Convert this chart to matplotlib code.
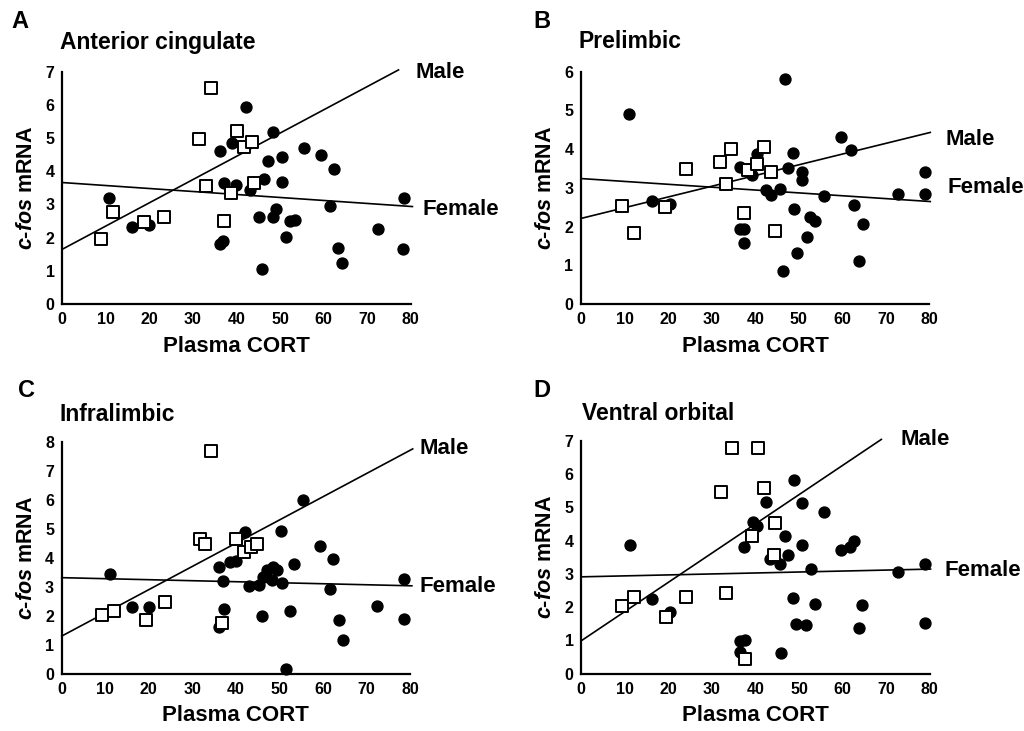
import matplotlib
matplotlib.use("Agg")
import matplotlib.pyplot as plt

plt.rcParams['font.family'] = ['Liberation Sans', 'DejaVu Sans']
plt.rcParams['font.weight'] = 'bold'
plt.rcParams['mathtext.fontset'] = 'custom'
plt.rcParams['mathtext.bfit'] = 'Liberation Sans:italic:bold'
plt.rcParams['mathtext.rm'] = 'Liberation Sans:bold'

# ---- data ----
letters = ["A", "B", "C", "D"]
regions = ["Anterior cingulate", "Prelimbic", "Infralimbic", "Ventral orbital"]
y_max = [7, 6, 8, 7]

# open squares
sq_x_A = [9.0, 11.7, 18.8, 23.4, 34.1, 31.5, 32.9, 40.0, 41.8, 43.6, 44.1, 38.7, 37.2]
sq_y_A = [1.95, 2.78, 2.48, 2.63, 6.52, 4.96, 3.56, 5.21, 4.73, 4.89, 3.64, 3.33, 2.50]
sq_x_B = [9.4, 12.1, 19.4, 24.1, 31.9, 34.5, 33.4, 38.4, 40.5, 42.1, 43.6, 37.5, 44.6]
sq_y_B = [2.54, 1.83, 2.51, 3.49, 3.68, 4.00, 3.09, 3.46, 3.61, 4.05, 3.42, 2.34, 1.89]
sq_x_C = [9.3, 12.0, 19.3, 23.8, 34.2, 31.8, 33.0, 40.0, 41.8, 43.4, 44.8, 36.8]
sq_y_C = [2.02, 2.18, 1.84, 2.49, 7.71, 4.65, 4.48, 4.65, 4.20, 4.37, 4.47, 1.76]
sq_x_D = [9.3, 12.2, 19.4, 24.0, 32.1, 33.2, 34.5, 40.5, 42.0, 39.1, 44.5, 44.2, 37.6]
sq_y_D = [2.04, 2.30, 1.70, 2.30, 5.45, 2.41, 6.79, 6.79, 5.59, 4.15, 4.52, 3.57, 0.43]

# filled circles
ci_x_A = [10.7, 15.9, 19.8, 36.2, 39.0, 42.2, 48.4, 37.1, 39.8, 43.1, 46.4, 47.2, 50.4, 50.4,
          55.4, 59.3, 62.5, 61.5, 49.0, 48.3, 45.2, 52.3, 53.4, 51.3, 36.1, 36.8, 45.8, 63.4,
          64.2, 72.4, 78.3, 78.5]
ci_y_A = [3.20, 2.33, 2.37, 4.62, 4.86, 5.93, 5.19, 3.66, 3.59, 3.43, 3.76, 4.31, 4.42, 3.69,
          4.70, 4.48, 4.08, 2.95, 2.85, 2.62, 2.62, 2.49, 2.54, 2.02, 1.82, 1.91, 1.04, 1.68,
          1.25, 2.26, 1.66, 3.19]
ci_x_B = [11.1, 16.3, 20.4, 36.5, 39.3, 40.3, 42.5, 43.6, 45.6, 46.8, 47.6, 48.7, 50.7, 50.7,
          48.8, 52.6, 53.8, 51.8, 49.6, 46.3, 36.5, 37.5, 37.4, 55.7, 59.7, 61.9, 62.7, 64.7,
          63.9, 72.8, 79.0, 79.0]
ci_y_B = [4.90, 2.66, 2.58, 3.55, 3.32, 3.87, 2.94, 2.81, 2.96, 5.81, 3.52, 3.90, 3.40, 3.20,
          2.45, 2.25, 2.15, 1.74, 1.32, 0.85, 1.94, 1.94, 1.57, 2.80, 4.31, 3.97, 2.55, 2.06,
          1.10, 2.83, 2.83, 3.42]
ci_x_C = [11.1, 16.2, 20.1, 36.2, 37.1, 37.3, 36.2, 38.7, 40.0, 42.1, 43.1, 45.3, 45.9, 46.3,
          47.1, 48.5, 49.4, 48.2, 50.4, 50.5, 52.5, 53.4, 55.5, 59.3, 62.4, 61.6, 63.6, 64.5,
          51.5, 72.5, 78.7, 78.7]
ci_y_C = [3.45, 2.31, 2.29, 3.70, 3.22, 2.24, 1.60, 3.85, 3.90, 4.90, 3.03, 3.05, 1.98, 3.33,
          3.59, 3.70, 3.59, 3.24, 4.95, 3.14, 2.16, 3.79, 6.01, 4.40, 3.95, 2.94, 1.86, 1.15,
          0.16, 2.35, 1.89, 3.29]
ci_x_D = [11.2, 16.2, 20.3, 36.4, 37.5, 36.4, 37.3, 39.4, 40.4, 42.5, 43.4, 45.6, 46.7, 47.5,
          48.8, 48.6, 49.3, 51.7, 50.7, 50.7, 52.7, 53.7, 55.7, 45.9, 59.6, 61.8, 62.7, 64.5,
          63.8, 72.7, 78.9, 78.9]
ci_y_D = [3.87, 2.24, 1.85, 0.98, 1.01, 0.64, 3.82, 4.57, 4.45, 5.17, 3.44, 3.31, 4.14, 3.57,
          5.82, 2.26, 1.50, 1.45, 5.14, 3.86, 3.14, 2.08, 4.86, 0.63, 3.73, 3.80, 3.99, 2.07,
          1.38, 3.06, 3.31, 1.51]

# regression lines: intercept, slope, x where the drawn line ends
male_fit = [(1.65, 0.0700, 77.2), (2.21, 0.0277, 80.2), (1.30, 0.0803, 80.6), (0.99, 0.0878, 68.9)]
female_fit = [(3.66, -0.0090, 80.4), (3.24, -0.0074, 80.2), (3.32, -0.0035, 80.4), (2.91, 0.0029, 80.2)]

squares_x = [sq_x_A, sq_x_B, sq_x_C, sq_x_D]
squares_y = [sq_y_A, sq_y_B, sq_y_C, sq_y_D]
circles_x = [ci_x_A, ci_x_B, ci_x_C, ci_x_D]
circles_y = [ci_y_A, ci_y_B, ci_y_C, ci_y_D]

# ---- layout ----
W, H = 1024, 731
axes_px = [(62.3, 71.7, 348.4, 232.3), (581.0, 71.7, 348.4, 232.3),
           (61.7, 442.3, 348.4, 231.4), (581.3, 440.7, 348.4, 233.0)]
letter_pos = [(11.7, 28.3), (533.7, 28.3), (18.3, 396.7), (533.7, 396.7)]
title_pos = [(-0.007, 1.099), (-0.007, 1.10), (-0.007, 1.093), (0.002, 1.089)]
male_lbl = [(81.0, 6.99), (83.6, 4.24), (82.1, 7.77), (73.2, 7.05)]
female_lbl = [(82.8, 2.86), (84.1, 3.00), (82.1, 3.03), (83.3, 3.11)]

fig = plt.figure(figsize=(W / 100, H / 100), dpi=100)

for i in range(4):
    l, t, w, h = axes_px[i]
    ax = fig.add_axes([l / W, 1 - (t + h) / H, w / W, h / H])

    ax.scatter(circles_x[i], circles_y[i], s=62, marker='o', facecolor='black',
               edgecolor='black', linewidth=1, zorder=3, clip_on=False)
    ax.scatter(squares_x[i], squares_y[i], s=70, marker='s', facecolor='white',
               edgecolor='black', linewidth=1.4, zorder=4, clip_on=False)

    for fit in (male_fit[i], female_fit[i]):
        b, m, xe = fit
        ax.plot([0, xe], [b, b + m * xe], color='black', lw=1.2, zorder=2, clip_on=False)

    ax.text(male_lbl[i][0], male_lbl[i][1], "Male", fontsize=16, fontweight='bold',
            ha='left', va='center')
    ax.text(female_lbl[i][0], female_lbl[i][1], "Female", fontsize=16, fontweight='bold',
            ha='left', va='center')

    ax.set_xlim(0, 80)
    ax.set_ylim(0, y_max[i])
    ax.set_xticks(range(0, 81, 10))
    ax.set_yticks(range(0, y_max[i] + 1))
    ax.tick_params(axis='y', length=0, labelsize=11.5, pad=5.5)
    ax.tick_params(axis='x', length=0, labelsize=11.5, pad=6)
    for lab in ax.get_xticklabels() + ax.get_yticklabels():
        lab.set_fontweight('bold')

    for s in ['top', 'right']:
        ax.spines[s].set_visible(False)
    for s in ['left', 'bottom']:
        ax.spines[s].set_linewidth(1.6)

    ax.set_xlabel("Plasma CORT", fontsize=16, fontweight='bold', labelpad=6)
    ax.set_ylabel(r"$\mathbfit{c}$-$\mathbfit{fos}$ mRNA", fontsize=15.5, fontweight='bold', labelpad=6)

    ax.text(title_pos[i][0], title_pos[i][1], regions[i], transform=ax.transAxes,
            fontsize=16.5, fontweight='bold', ha='left', va='baseline')
    fig.text(letter_pos[i][0] / W, 1 - letter_pos[i][1] / H, letters[i], fontsize=17,
             fontweight='bold', ha='left', va='baseline')

fig.savefig("out.png", dpi=100)
